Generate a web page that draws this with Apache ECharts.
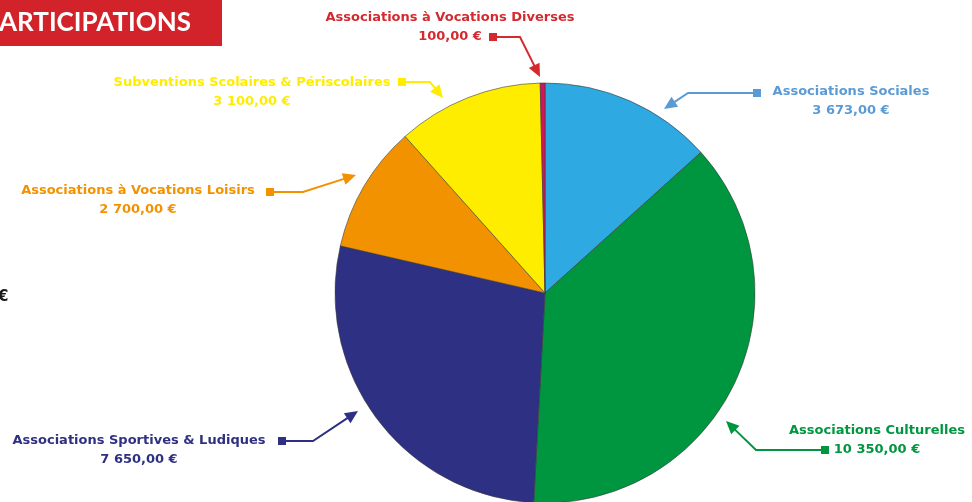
<!DOCTYPE html>
<html>
<head>
<meta charset="utf-8">
<script src="https://cdn.jsdelivr.net/npm/echarts@6/dist/echarts.min.js"></script>
<style>
  html, body { margin: 0; padding: 0; background: #ffffff; }
  #chart { width: 972px; height: 502px; }
</style>
</head>
<body>
<div id="chart"></div>
<script>
// data, clockwise from 12 o'clock
var categories = [
  'Associations Sociales',
  'Associations Culturelles',
  'Associations Sportives & Ludiques',
  'Associations à Vocations Loisirs',
  'Subventions Scolaires & Périscolaires',
  'Associations à Vocations Diverses'
];
var amounts = [3673, 10350, 7650, 2700, 3100, 100];
var amountLabels = ['3 673,00 €', '10 350,00 €', '7 650,00 €', '2 700,00 €', '3 100,00 €', '100,00 €'];

var sliceColors = ['#2fa9e1', '#009640', '#2e3083', '#f39200', '#ffed00', '#d4145a'];
var textColors  = ['#5b9bd5', '#009640', '#2e3083', '#f39200', '#ffed00', '#d42a2f'];

// label centres (x, y of block middle)
var labelPos = [[851, 101], [877, 440], [139, 450], [138, 200], [252, 92], [450, 27]];
// arrow paths: square marker first, arrow tip last
var arrowPaths = [
  [[757, 93], [688, 93], [664, 109]],
  [[825, 450], [756, 450], [726, 421]],
  [[282, 441], [313, 441], [358, 411]],
  [[270, 192], [303, 192], [356, 175]],
  [[402, 82], [430, 82], [443, 98]],
  [[493, 37], [520, 37], [540, 77]]
];

var chart = echarts.init(document.getElementById('chart'));

var graphics = [
  { type: 'rect', shape: { x: 0, y: 0, width: 222, height: 46 }, style: { fill: '#d3232a' } },
  { type: 'text', x: -1, y: 23, style: { text: 'ARTICIPATIONS', fill: '#ffffff', font: 'bold 26px Lato', verticalAlign: 'middle' } },
  { type: 'text', x: -2, y: 297, style: { text: '€', fill: '#1a1a1a', font: 'bold 15px "DejaVu Sans"', verticalAlign: 'middle' } }
];

arrowPaths.forEach(function (pts, i) {
  var c = textColors[i];
  var n = pts.length;
  var tip = pts[n - 1], prev = pts[n - 2];
  var dx = tip[0] - prev[0], dy = tip[1] - prev[1];
  var len = Math.sqrt(dx * dx + dy * dy);
  var ux = dx / len, uy = dy / len;
  var hl = 13, hw = 6;
  var bx = tip[0] - ux * hl, by = tip[1] - uy * hl;
  var line = pts.slice(0, n - 1).concat([[bx + ux * 2, by + uy * 2]]);
  graphics.push({ type: 'polyline', shape: { points: line }, style: { stroke: c, lineWidth: 2, fill: null } });
  graphics.push({ type: 'polygon', shape: { points: [tip, [bx - uy * hw, by + ux * hw], [bx + uy * hw, by - ux * hw]] }, style: { fill: c } });
  graphics.push({ type: 'rect', shape: { x: pts[0][0] - 4, y: pts[0][1] - 4, width: 8, height: 8 }, style: { fill: c } });
});

chart.setOption({
  animation: false,
  graphic: graphics,
  series: [{
    type: 'pie',
    center: [545, 293],
    radius: 210,
    startAngle: 90,
    clockwise: true,
    silent: true,
    itemStyle: { borderColor: '#3a3a3a', borderWidth: 0.6 },
    label: {
      show: true,
      fontFamily: 'DejaVu Sans',
      fontWeight: 'bold',
      fontSize: 13,
      lineHeight: 19,
      align: 'center',
      formatter: function (p) { return p.name + '\n' + amountLabels[p.dataIndex]; }
    },
    labelLine: { show: false },
    labelLayout: function (p) {
      var pos = labelPos[p.dataIndex];
      return { x: pos[0], y: pos[1], align: 'center', verticalAlign: 'middle', moveOverlap: false };
    },
    data: categories.map(function (name, i) {
      return {
        name: name,
        value: amounts[i],
        itemStyle: { color: sliceColors[i] },
        label: { color: textColors[i] }
      };
    })
  }]
});
</script>
</body>
</html>
